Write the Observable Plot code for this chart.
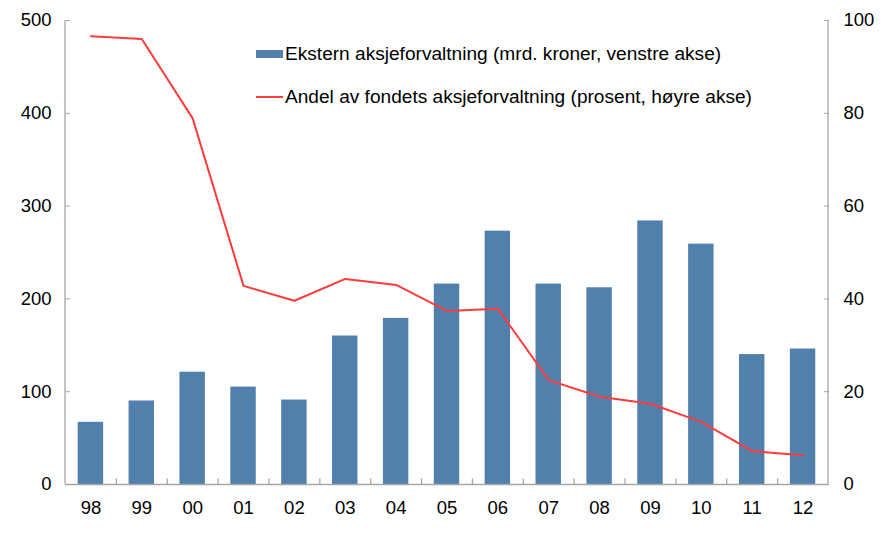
<!DOCTYPE html>
<html><head><meta charset="utf-8">
<script src="https://cdn.jsdelivr.net/npm/d3@7"></script>
<script src="https://cdn.jsdelivr.net/npm/@observablehq/plot@0.6"></script>
<style>
body{margin:0;background:#fff;font-family:"Liberation Sans",Arial,sans-serif;}
#wrap{position:relative;width:889px;height:534px;}
.leg{position:absolute;font-size:19.1px;color:#000;display:flex;align-items:center;white-space:nowrap;height:24px;}
.sw{display:inline-block;width:27px;margin-right:2px;}
</style></head><body>
<div id="wrap"></div>
<script>
const years = ["98","99","00","01","02","03","04","05","06","07","08","09","10","11","12"];
const ekstern = [67,90,121,105,91,160,179,216,273,216,212,284,259,140,146];
const andel = [96.6,96.0,78.9,42.8,39.6,44.3,43.0,37.4,37.9,22.5,18.9,17.4,13.5,7.2,6.3];
const leftTicks = [0,100,200,300,400,500];
const rightTicks = [0,20,40,60,80,100];
const labels = ["Ekstern aksjeforvaltning (mrd. kroner, venstre akse)","Andel av fondets aksjeforvaltning (prosent, høyre akse)"];

const barData = years.map((y,i)=>({year:y, value:ekstern[i]}));
const lineData = years.map((y,i)=>({year:y, value:andel[i]*5}));
const gridColor = "#a6a6a6";

const chart = Plot.plot({
  width: 889, height: 534,
  marginLeft: 65, marginRight: 61, marginTop: 20, marginBottom: 50,
  style: {fontFamily: '"Liberation Sans", Arial, sans-serif', fontSize: "18px", color: "#000", background: "#fff"},
  x: {domain: years, paddingInner: 0.5, paddingOuter: 0.25, align: 0.5, round: false},
  y: {domain: [0,500]},
  marks: [
    Plot.barY(barData, {x:"year", y:"value", fill:"#5280ad"}),
    Plot.line(lineData, {x:"year", y:"value", stroke:"#ff3b3b", strokeWidth:2}),
    Plot.ruleY([0], {stroke: gridColor, strokeWidth:1.3}),
    Plot.axisY(leftTicks, {anchor:"left", tickSize:-5, tickPadding:19, stroke: gridColor, label:null, fill:"#000", fontSize:18.5}),
    Plot.axisY(rightTicks.map(d=>d*5), {anchor:"right", tickSize:-5, tickPadding:20, stroke: gridColor, label:null, tickFormat: d=>d/5, fill:"#000", fontSize:18.5}),
    Plot.axisX(years, {anchor:"bottom", tickSize:0, tickPadding:16, label:null, fill:"#000", fontSize:18.5}),
    Plot.ruleX(years.slice(0,-1), {x: d=>d, dx:25.43, y1:0, y2:6, stroke: gridColor, strokeWidth:1.3})
  ]
});
document.getElementById("wrap").appendChild(chart);

// vertical axis lines at the left and right edges of the plot frame
const xr = chart.scale("x").range, yr = chart.scale("y").range;
const svg = d3.select(chart.tagName.toLowerCase()==="svg" ? chart : chart.querySelector("svg"));
[xr[0], xr[1]].forEach(xp => {
  svg.append("line").attr("x1", xp).attr("x2", xp).attr("y1", yr[0]).attr("y2", yr[1])
    .attr("stroke", gridColor).attr("stroke-width", 1.3);
});

const wrap = document.getElementById("wrap");
const l1 = document.createElement("div");
l1.className="leg"; l1.style.left="256px"; l1.style.top="42px";
l1.innerHTML = '<span class="sw" style="height:8px;background:#5280ad"></span>';
l1.appendChild(document.createTextNode(labels[0]));
const l2 = document.createElement("div");
l2.className="leg"; l2.style.left="256px"; l2.style.top="85px";
l2.innerHTML = '<span class="sw" style="height:2px;background:#ff3b3b"></span>';
l2.appendChild(document.createTextNode(labels[1]));
wrap.appendChild(l1); wrap.appendChild(l2);
</script>
</body></html>
